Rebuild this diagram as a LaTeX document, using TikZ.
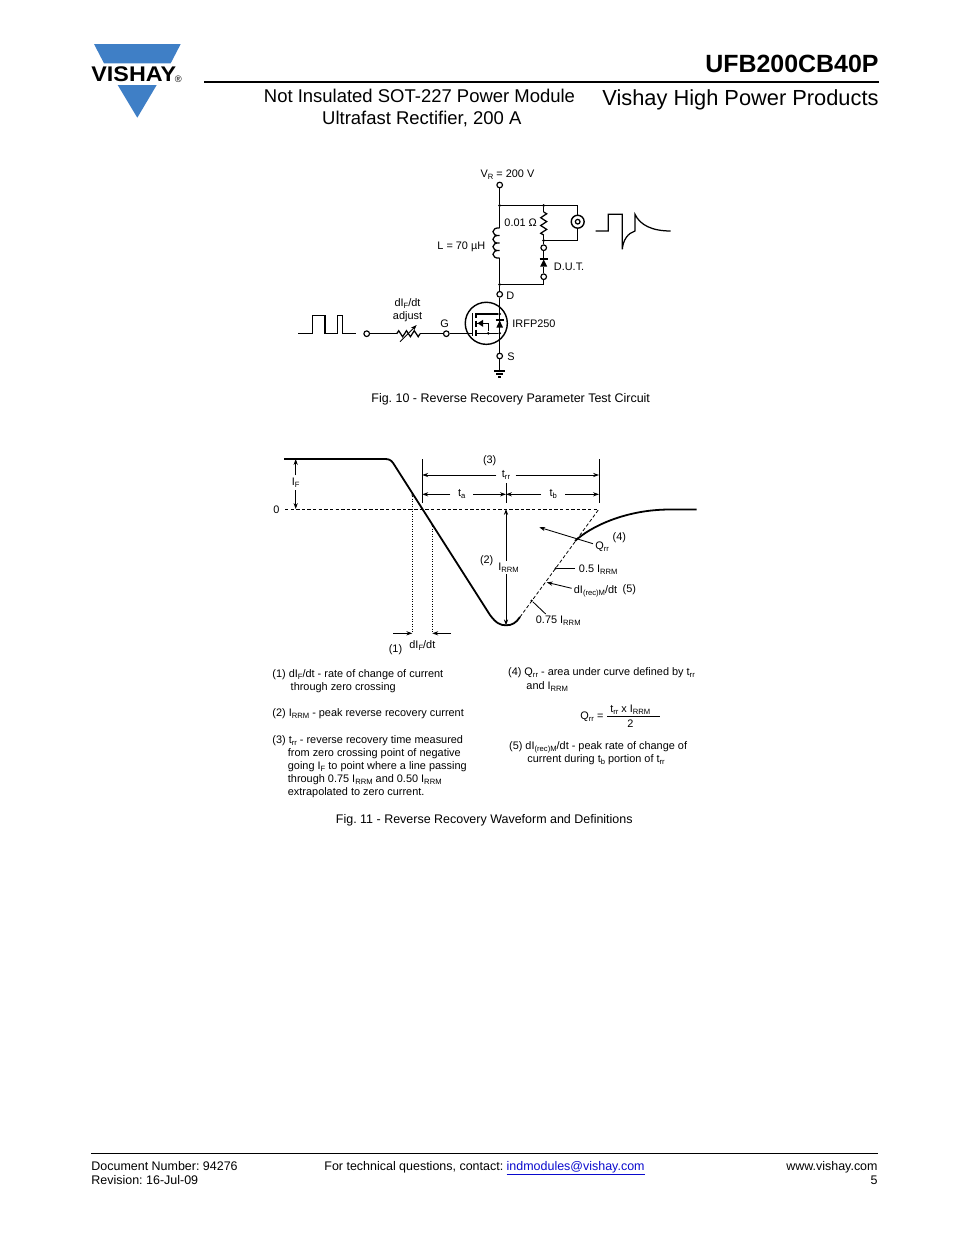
\documentclass[tikz,border=0pt]{standalone}
\usepackage{fontspec}
\setmainfont{Liberation Sans}
\usepackage{xcolor}
\usetikzlibrary{arrows.meta,positioning,calc}
\definecolor{vblue}{HTML}{3F7FC6}
\definecolor{linkblue}{HTML}{0A0ACD}
\newcommand{\low}[1]{\raisebox{-.35ex}{\fontsize{4.9}{5}\selectfont #1}}
\frenchspacing
\begin{document}
\begin{tikzpicture}[x=0.6415pt,y=-0.6415pt,>={Stealth[length=3.8pt,width=2.7pt]},line width=0.55pt,
  term/.style={circle,draw,fill=white,line width=0.75pt,minimum size=3.6pt,inner sep=0pt},
  dot/.style={circle,fill,minimum size=1.9pt,inner sep=0pt},
  wire/.style={line width=0.8pt},
  heavy/.style={line width=1.15pt},
  txt/.style={font=\fontsize{7}{8}\selectfont,inner sep=0pt,anchor=base west},
  lbl/.style={font=\fontsize{7}{8}\selectfont,inner sep=1.5pt},
  capt/.style={font=\fontsize{8}{9}\selectfont,inner sep=0pt,anchor=base},
  foot/.style={font=\fontsize{8}{9}\selectfont,inner sep=0pt}]
\useasboundingbox (0,0) rectangle (954,1235);
% header
\fill[vblue] (94,44) -- (180.7,44) -- (170.7,63.3) -- (104,63.3) -- cycle;
\fill[vblue] (117.7,85) -- (156.7,85) -- (137.3,117.7) -- cycle;
\node[font=\fontsize{13.6}{14}\selectfont\bfseries,inner sep=0pt,anchor=base west] (logo) at (91,81.7) {\scalebox{1.1}[1]{VISHAY}};
\node[font=\fontsize{6}{6}\selectfont,inner sep=0pt,anchor=base] (reg) at (178.3,82) {®};
\coordinate (hl) at (204,82);
\coordinate (hr) at (879,82);
\draw[line width=1pt] (hl) -- (hr);
\node[font=\fontsize{16}{18}\selectfont\bfseries,inner sep=0pt,anchor=base east] (part) at (879,72.5) {UFB200CB40P};
\node[font=\fontsize{14}{16}\selectfont,inner sep=0pt,anchor=base east] (group) at (879,105) {Vishay High Power Products};
\node[font=\fontsize{11.85}{14}\selectfont,inner sep=0pt,anchor=base] (sub1) at (419.5,102) {Not Insulated SOT-227 Power Module};
\node[font=\fontsize{11.85}{14}\selectfont,inner sep=0pt,anchor=base] (sub2) at (421.8,124) {Ultrafast Rectifier, 200 A};
% Fig. 10 circuit
\node[term] (vr) at (499.7,185) {};
\node[term] (tr1) at (543.7,247.7) {};
\node[term] (tr2) at (543.7,276.7) {};
\node[term] (td) at (499.7,294.3) {};
\node[term] (tg) at (446.3,333.7) {};
\node[term] (ts) at (499.7,356) {};
\node[term] (tin) at (366.7,333.7) {};
\node[dot] (j1) at (499.7,205.5) {};
\node[dot] (j2) at (543.7,205.5) {};
\node[dot] (j3) at (543.7,240.5) {};
\node[dot] (j4) at (499.7,284.5) {};
\node[circle,draw,line width=0.9pt,minimum size=8.3pt,inner sep=0pt] (scope) at (577.7,221.7) {};
\node[circle,draw,line width=0.8pt,minimum size=3pt,inner sep=0pt] (scopein) at (577.7,221.7) {};
\node[circle,draw,line width=0.9pt,minimum size=27pt,inner sep=0pt] (fet) at (486.3,323.3) {};
\coordinate (lt) at (499.7,228);
\coordinate (lb) at (499.7,258);
\coordinate (rt) at (543.7,212);
\coordinate (rb) at (543.7,235);
\coordinate (st) at (577.7,205.5);
\coordinate (sb) at (577.7,240.5);
\coordinate (dk) at (543.7,259);
\coordinate (da) at (543.7,267);
\coordinate (j5) at (543.7,284.5);
\coordinate (rl) at (396.7,333.7);
\coordinate (rr) at (420,333.7);
\coordinate (gw) at (472.7,333.7);
\coordinate (gnd) at (499.7,371);
\draw[wire] (vr) -- (j1);
\draw[wire] (j1) -- (lt);
\draw[wire] (j1.center) -- (st) -- (scope);
\draw[wire] (scope) -- (sb) -- (j3.center);
\draw[wire] (j2) -- (rt);
\draw[wire] (rb) -- (j3);
\draw[wire] (j3) -- (tr1);
\draw[wire] (tr1) -- (dk);
\draw[wire] (da) -- (tr2);
\draw[wire] (tr2) -- (j5);
\draw[line width=1pt] (j5) -- (j4.center);
\draw[wire] (lb) -- (j4);
\draw[wire] (j4) -- (td);
\draw[wire] (td) -- (ts);
\draw[wire] (ts) -- (gnd);
\draw[wire] (tin) -- (rl);
\draw[wire] (rr) -- (tg);
\draw[wire] (tg) -- (gw);
% inductor
\draw[wire] (lt) .. controls +(-9,-1) and +(-9,1) .. ++(0,7.5) .. controls +(-9,-1) and +(-9,1) .. ++(0,7.5)
  .. controls +(-9,-1) and +(-9,1) .. ++(0,7.5) .. controls +(-9,-1) and +(-9,1) .. ++(0,7.5);
% resistors
\draw[wire] (rt) -- ++(3,1.8) -- ++(-6,3.9) -- ++(6,3.9) -- ++(-6,3.9) -- ++(6,3.9) -- ++(-6,3.9) -- (rb);
\draw[wire] (rl) -- ++(2,-3) -- ++(3.9,6) -- ++(3.9,-6) -- ++(3.9,6) -- ++(3.9,-6) -- ++(3.9,6) -- (rr);
\coordinate (ra) at (400,341.7);
\coordinate (rc) at (416.7,325);
\draw[->,line width=0.55pt] (ra) -- (rc);
% D.U.T. diode
\fill (543.7,259.5) -- (547.2,266.5) -- (540.2,266.5) -- cycle;
\draw[wire] (539.7,259) -- (547.7,259);
% MOSFET
\draw[line width=1pt] (472.7,313) -- (472.7,336);
\draw[line width=1pt] (476,313) -- (476,318) (476,320.5) -- (476,326.5) (476,329.5) -- (476,336);
\node[dot] (fd) at (499.7,314) {};
\node[dot] (fs) at (499.7,333.3) {};
\node[dot] (fb) at (488.3,333.3) {};
\draw[wire] (476,314) -- (fd);
\draw[wire] (476,333.3) -- (fs);
\draw[wire] (476,323.3) -- (488.3,323.3) -- (fb);
\fill (477.5,323.3) -- (483,319.8) -- (483,326.8) -- cycle;
\fill (499.7,320.5) -- (503,327.5) -- (496.4,327.5) -- cycle;
\draw[wire] (495.5,320) -- (503.9,320);
% ground
\draw[wire] (494,371) -- (505.4,371);
\draw[wire] (496,374) -- (503.4,374);
\draw[wire] (498,377) -- (501.4,377);
% waves
\draw[wire] (298.3,333.7) -- (312.7,333.7) -- (312.7,315.7) -- (325,315.7) -- (325,333.7) -- (337.3,333.7)
  -- (337.3,315.7) -- (342.3,315.7) -- (342.3,333.7) -- (356,333.7);
\draw[wire] (595.7,231) -- (608.3,231) -- (608.3,214.3) -- (622.3,214.3) -- (622.3,249.3)
  .. controls (623,240) and (628,233) .. (635,231) -- (635,214.3)
  .. controls (640,225) and (652,231) .. (670.7,231);
\node[lbl,anchor=base] (lvr) at (507.5,177) {V\low{R} = 200 V};
\node[lbl,anchor=base west,inner sep=0pt] (lr) at (504,226.5) {0.01 Ω};
\node[lbl,anchor=base west,inner sep=0pt] (ll) at (437,249) {L = 70 µH};
\node[lbl,anchor=base west,inner sep=0pt] (ldut) at (553.5,270) {D.U.T.};
\node[lbl,anchor=base west,inner sep=0pt] (ld) at (506,299) {D};
\node[lbl,anchor=base west,inner sep=0pt] (ls) at (507,360) {S};
\node[lbl,anchor=base,inner sep=0pt] (lg) at (444.5,327) {G};
\node[lbl,anchor=base west,inner sep=0pt] (lfet) at (512,327) {IRFP250};
\node[lbl,anchor=base,inner sep=0pt] (ladj1) at (407.5,306) {dI\low{F}/dt};
\node[lbl,anchor=base,inner sep=0pt] (ladj2) at (407.5,319) {adjust};
\node[capt] (cap10) at (510.7,402.5) {Fig. 10 - Reverse Recovery Parameter Test Circuit};
% Fig. 11 waveform
\coordinate (f0) at (284,459);
\coordinate (z0) at (285,509);
\coordinate (z1) at (599,509);
\coordinate (k) at (520,617);
\coordinate (q) at (575,541);
\coordinate (ifa) at (295.7,459);
\coordinate (ifb) at (295.7,509);
\coordinate (tal) at (422.3,459);
\coordinate (tab) at (422.3,503.3);
\coordinate (tbt) at (599,459);
\coordinate (tbb) at (599,503.3);
\coordinate (tmt) at (506,483.3);
\coordinate (tmb) at (506,503.3);
\coordinate (imin) at (506,625.3);
\coordinate (izero) at (506,509);
\draw[dashed,dash pattern=on 2.2pt off 1.4pt,line width=0.5pt] (z0) -- (z1);
\draw[dashed,dash pattern=on 2.2pt off 1.4pt,line width=0.5pt] (k) -- (z1);
\draw[heavy] (f0) -- (385,459) .. controls (389,459) and (391,460) .. (393.3,463.3) -- (490,615)
  .. controls (496,623) and (500,625.3) .. (imin) .. controls (512,625.3) and (516,623) .. (k);
\draw[heavy] (q) .. controls (590,527) and (625,509.5) .. (670,509.5) -- (696.7,509.5);
\node[lbl,inner sep=0pt,minimum height=9pt] (lif) at (295.7,482.7) {I\low{F}};
\node[lbl,inner sep=0pt] (l0) at (276.5,509.5) {0};
\draw[->] (lif) -- (ifa);
\draw[->] (lif) -- (ifb);
\draw (tal) -- (tab);
\draw (tbt) -- (tbb);
\draw (tmt) -- (tmb);
\node[lbl,inner sep=0pt,minimum width=11.7pt] (ltrr) at (506,475) {t\low{rr}};
\node[lbl,inner sep=0pt,minimum width=14pt] (lta) at (461.7,494.3) {t\low{a}};
\node[lbl,inner sep=0pt,minimum width=15pt] (ltb) at (553.3,494.3) {t\low{b}};
\draw[->] (ltrr) -- (422.3,475);
\draw[->] (ltrr) -- (599,475);
\draw[->] (lta) -- (422.3,494.3);
\draw[->] (lta) -- (506,494.3);
\draw[->] (ltb) -- (506,494.3);
\draw[->] (ltb) -- (599,494.3);
\node[lbl,anchor=base,inner sep=0pt] (n3) at (489.7,463) {(3)};
\node[lbl,inner sep=1pt,minimum width=15pt] (lirrm) at (508.5,567.5) {I\low{RRM}};
\draw[->] (lirrm.north -| izero) -- (izero);
\draw[->] (lirrm.south -| izero) -- (imin);
\node[lbl,anchor=base,inner sep=0pt] (n2) at (486.7,563) {(2)};
\node[lbl,anchor=base west,inner sep=0pt] (lq) at (595,549) {Q\low{rr}};
\node[lbl,anchor=base,inner sep=0pt] (n4) at (619.3,540) {(4)};
\coordinate (qa) at (593,543.7);
\coordinate (qb) at (539.3,527.3);
\draw[->] (qa) -- (qb);
\node[dot,minimum size=1.6pt] (p5) at (555.7,568.3) {};
\node[dot,minimum size=1.6pt] (p7) at (531.7,600.7) {};
\coordinate (a5) at (575,568.3);
\draw (a5) -- (p5);
\node[lbl,anchor=base west,inner sep=0pt] (l5) at (578.5,572) {0.5 I\low{RRM}};
\coordinate (ad) at (571.7,588.3);
\coordinate (bd) at (546.7,582.3);
\draw[->] (ad) -- (bd);
\node[lbl,anchor=base west,inner sep=0pt] (ldi) at (573.5,593.5) {dI\low{(rec)M}/dt};
\node[lbl,anchor=base,inner sep=0pt] (n5) at (629.3,592) {(5)};
\coordinate (a7) at (545.7,614);
\draw (a7) -- (p7);
\node[lbl,anchor=base west,inner sep=0pt] (l7) at (535.5,623.5) {0.75 I\low{RRM}};
\node[dot,minimum size=1.2pt] (p1) at (412.3,495) {};
\node[dot,minimum size=1.2pt] (p2) at (432.3,525) {};
\coordinate (b1) at (412.3,633.3);
\coordinate (b2) at (432.3,633.3);
\draw[densely dotted,line width=0.6pt] (p1) -- (b1);
\draw[densely dotted,line width=0.6pt] (p2) -- (b2);
\draw[->] (393.3,633.3) -- (b1);
\draw[->] (451,633.3) -- (b2);
\node[lbl,anchor=base,inner sep=0pt] (n1) at (395.5,652) {(1)};
\node[lbl,anchor=base west,inner sep=0pt] (ldif) at (409,648) {dI\low{F}/dt};
% definitions
\node[txt] (d1a) at (272,677) {(1) dI\low{F}/dt - rate of change of current};
\node[txt] (d1b) at (290.3,690.5) {through zero crossing};
\node[txt] (d2) at (272,716) {(2) I\low{RRM} - peak reverse recovery current};
\node[txt] (d3a) at (272,743) {(3) t\low{rr} - reverse recovery time measured};
\node[txt] (d3b) at (287.5,756) {from zero crossing point of negative};
\node[txt] (d3c) at (287.5,769) {going I\low{F} to point where a line passing};
\node[txt] (d3d) at (287.5,782) {through 0.75 I\low{RRM} and 0.50 I\low{RRM}};
\node[txt] (d3e) at (287.5,795) {extrapolated to zero current.};
\node[txt] (d4a) at (507.7,675) {(4) Q\low{rr} - area under curve defined by t\low{rr}};
\node[txt] (d4b) at (526,689) {and I\low{RRM}};
\node[txt] (d4c) at (580,719) {Q\low{rr} =};
\coordinate (fl) at (607,716);
\coordinate (fr) at (659.7,716);
\draw (fl) -- (fr);
\node[txt,anchor=base] (d4d) at (630.3,712) {t\low{rr} x I\low{RRM}};
\node[txt,anchor=base] (d4e) at (630.5,727) {2};
\node[txt] (d5a) at (508.7,749) {(5) dI\low{(rec)M}/dt - peak rate of change of};
\node[txt] (d5b) at (527,762) {current during t\low{b} portion of t\low{rr}};
\node[capt] (cap11) at (484.3,823.5) {Fig. 11 - Reverse Recovery Waveform and Definitions};
% footer
\coordinate (fa) at (91,1153.5);
\coordinate (fb2) at (878,1153.5);
\draw[line width=0.55pt] (fa) -- (fb2);
\node[foot,anchor=base west] (doc) at (91,1170) {Document Number: 94276};
\node[foot,anchor=base west] (rev) at (91,1184.5) {Revision: 16-Jul-09};
\node[foot,anchor=base] (cont) at (484.5,1170) {For technical questions, contact: {\color{linkblue}\underline{indmodules@vishay.com}}};
\node[foot,anchor=base east] (web) at (878,1170) {www.vishay.com};
\node[foot,anchor=base east] (pg) at (878,1184.5) {5};
\end{tikzpicture}
\end{document}
